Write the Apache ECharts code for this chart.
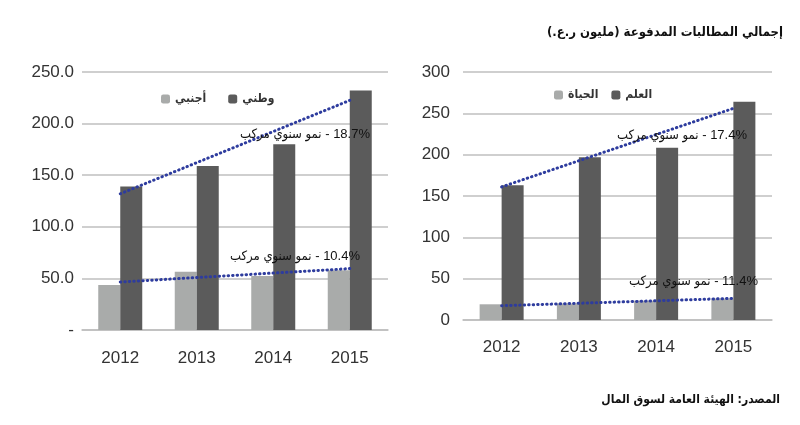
<!DOCTYPE html>
<html><head><meta charset="utf-8">
<script src="https://cdn.jsdelivr.net/npm/echarts@6/dist/echarts.min.js"></script>
<style>html,body{margin:0;padding:0;background:#fff}#c{width:800px;height:425px}</style>
</head><body><div id="c" dir="rtl"></div>
<script>
const years = ['2012', '2013', '2014', '2015'];
// Left chart
const leftNames = ['أجنبي', 'وطني'];
const leftForeign = [43.6, 56.5, 52.3, 58.0];
const leftNational = [139, 159, 180, 232];
const leftTrendNational = [132, null, null, 222.5];
const leftTrendForeign = [46.5, null, null, 59.5];
const leftTicks = ['-', '50.0', '100.0', '150.0', '200.0', '250.0'];
const leftNotes = ['18.7% - نمو سنوي مركب', '10.4% - نمو سنوي مركب'];
// Right chart
const rightNames = ['الحياة', 'العلم'];
const rightLife = [19, 20, 23.4, 26];
const rightGeneral = [163, 197, 208.5, 264];
const rightTrendGeneral = [161, null, null, 256];
const rightTrendLife = [17.3, null, null, 26.2];
const rightNotes = ['17.4% - نمو سنوي مركب', '11.4% - نمو سنوي مركب'];
const titleText = 'إجمالي المطالبات المدفوعة (مليون ر.ع.)';
const sourceText = 'المصدر: الهيئة العامة لسوق المال';

const FONT = '"Liberation Sans Narrow", "Liberation Sans", "DejaVu Sans Condensed", "DejaVu Sans", sans-serif';
const AFONT = '"DejaVu Sans Condensed", "DejaVu Sans", sans-serif';
const LIGHT = '#a9abaa', DARK = '#5b5b5b', BLUE = '#2e3c9e';

function bar(name, data, color, idx) {
  return { type: 'bar', name, data, xAxisIndex: idx, yAxisIndex: idx, barWidth: 22, barGap: '0%',
    itemStyle: { color }, silent: true };
}
function trend(data, idx) {
  return { type: 'line', data, xAxisIndex: idx, yAxisIndex: idx, connectNulls: true, symbol: 'none',
    z: 5, lineStyle: { color: BLUE, width: 3, type: [0.5, 4], cap: 'round' }, silent: true };
}
function note(text, right, y) {
  return { type: 'text', right: right, top: y, style: { text, font: '13px ' + FONT, fill: '#111' }, z: 100 };
}

const chart = echarts.init(document.getElementById('c'));
chart.setOption({
  animation: false,
  grid: [
    { left: 82, top: 72, width: 306, height: 258 },
    { left: 463, top: 72, width: 309, height: 248 }
  ],
  legend: [
    { data: leftNames, left: 156, top: 88, itemWidth: 9, itemHeight: 9, itemGap: 22,
      textStyle: { fontFamily: AFONT, fontSize: 12, fontWeight: 'bold', color: '#333' } },
    { data: rightNames, left: 549, top: 84, itemWidth: 9, itemHeight: 9, itemGap: 13,
      textStyle: { fontFamily: AFONT, fontSize: 12, fontWeight: 'bold', color: '#333' } }
  ],
  xAxis: [0, 1].map(i => ({
    type: 'category', data: years, gridIndex: i,
    axisLine: { show: true, lineStyle: { color: '#bfbfbf', width: 1.5 } }, axisTick: { show: false },
    axisLabel: { fontFamily: FONT, fontSize: 17, color: '#333', margin: i === 0 ? 20 : 19 }
  })),
  yAxis: [
    { type: 'value', gridIndex: 0, min: 0, max: 250, interval: 50,
      axisLine: { show: false }, axisTick: { show: false },
      splitLine: { lineStyle: { color: '#bfbfbf', width: 1.5 } },
      axisLabel: { fontFamily: FONT, fontSize: 17, color: '#333', margin: 8,
        formatter: v => leftTicks[Math.round(v / 50)] } },
    { type: 'value', gridIndex: 1, min: 0, max: 300, interval: 50,
      axisLine: { show: false }, axisTick: { show: false },
      splitLine: { lineStyle: { color: '#bfbfbf', width: 1.5 } },
      axisLabel: { fontFamily: FONT, fontSize: 17, color: '#333', margin: 13 } }
  ],
  series: [
    bar(leftNames[0], leftForeign, LIGHT, 0),
    bar(leftNames[1], leftNational, DARK, 0),
    trend(leftTrendNational, 0),
    trend(leftTrendForeign, 0),
    bar(rightNames[0], rightLife, LIGHT, 1),
    bar(rightNames[1], rightGeneral, DARK, 1),
    trend(rightTrendGeneral, 1),
    trend(rightTrendLife, 1)
  ],
  graphic: [
    { type: 'text', right: 17, top: 26, style: { text: titleText, font: 'bold 13px ' + AFONT, fill: '#111' } },
    { type: 'text', right: 20, top: 394, style: { text: sourceText, font: 'bold 12px ' + AFONT, fill: '#111' } },
    note(leftNotes[0], 430, 128),
    note(leftNotes[1], 440, 250),
    note(rightNotes[0], 53, 129),
    note(rightNotes[1], 42, 275)
  ]
});
</script></body></html>
